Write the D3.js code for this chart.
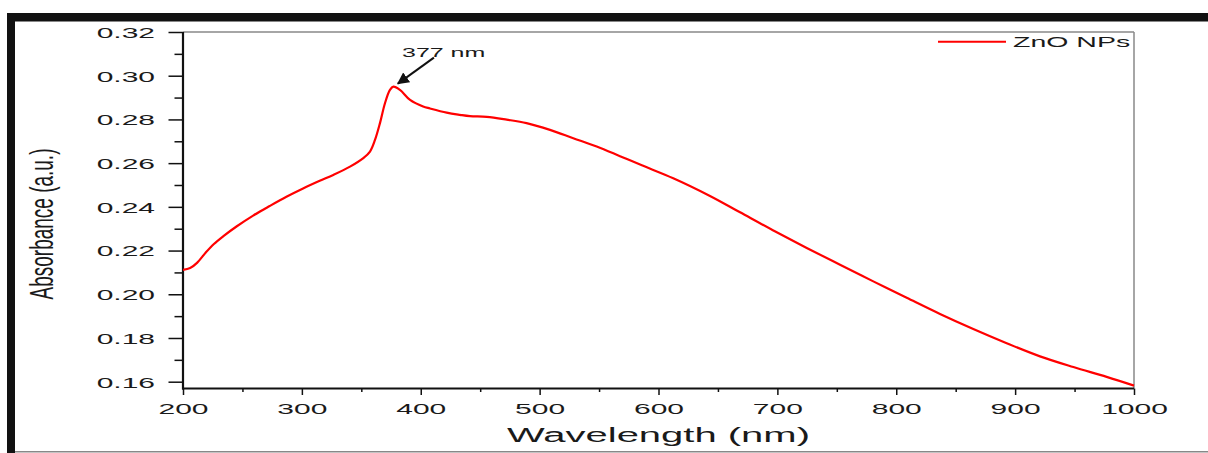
<!DOCTYPE html>
<html>
<head>
<meta charset="utf-8">
<script src="https://cdn.jsdelivr.net/npm/d3@7"></script>
<style>
  html, body { margin: 0; padding: 0; background: #fff; }
  svg { display: block; }
  text { font-family: "Liberation Sans", Arial, sans-serif; fill: #1a1a1a; }
</style>
</head>
<body>
<svg id="chart" width="1208" height="453"></svg>
<script>
// ---- data ----
const wavelength = [200, 206, 212, 219, 226, 234, 245, 259, 273, 287, 301, 315, 326.4, 340.5, 351.7, 357.3, 361.5, 365.7, 369.9, 374.1, 377, 382.5, 391, 402, 407.8, 421.8, 433, 441.4, 455.5, 472.3, 489, 508.7, 528.3, 548, 567.6, 586, 612.4, 643.3, 668.6, 696.6, 724.7, 752.7, 780.7, 808.8, 836.8, 864.8, 892.9, 920.9, 949, 977, 1000];
const absorbance = [0.2112, 0.2120, 0.2145, 0.2190, 0.2230, 0.2266, 0.2310, 0.2360, 0.2404, 0.2446, 0.2484, 0.2519, 0.2546, 0.2584, 0.2623, 0.2653, 0.2706, 0.2783, 0.2874, 0.2935, 0.2950, 0.2935, 0.2889, 0.2859, 0.2850, 0.2831, 0.2821, 0.2815, 0.2812, 0.2799, 0.2783, 0.2752, 0.2714, 0.2676, 0.2632, 0.2590, 0.2531, 0.2450, 0.2375, 0.2292, 0.2212, 0.2135, 0.2059, 0.1984, 0.1910, 0.1841, 0.1776, 0.1716, 0.1667, 0.1622, 0.1582];
const xTicks = [200, 300, 400, 500, 600, 700, 800, 900, 1000];
const xMinorTicks = [250, 350, 450, 550, 650, 750, 850, 950];
const yTicks = [0.16, 0.18, 0.20, 0.22, 0.24, 0.26, 0.28, 0.30, 0.32];
const yMinorTicks = [0.17, 0.19, 0.21, 0.23, 0.25, 0.27, 0.29, 0.31];
const seriesName = "ZnO NPs";
const peakLabel = "377 nm";
const peakWavelength = 377;
const xTitle = "Wavelength (nm)";
const yTitle = "Absorbance (a.u.)";

// ---- layout ----
const SX = 2.0; // horizontal text stretch of the original image
const L = 183, R = 1134, T = 32, B = 388.5;
const svg = d3.select("#chart");

const x = d3.scaleLinear().domain([200, 1000]).range([L, R]);
const y = d3.scaleLinear().domain([0.16, 0.32]).range([381.7, T]);

// outer black/gray border
svg.append("rect").attr("x", 7).attr("y", 13).attr("width", 1201).attr("height", 8.5).attr("fill", "#111");
svg.append("rect").attr("x", 7).attr("y", 13).attr("width", 8).attr("height", 440).attr("fill", "#111");
svg.append("line").attr("x1", 15).attr("x2", 1208).attr("y1", 451.8).attr("y2", 451.8)
  .attr("stroke", "#888").attr("stroke-width", 1.5);

// frame top/right (gray)
svg.append("line").attr("x1", L).attr("x2", R).attr("y1", T).attr("y2", T).attr("stroke", "#888").attr("stroke-width", 1.5);
svg.append("line").attr("x1", R).attr("x2", R).attr("y1", T).attr("y2", B).attr("stroke", "#888").attr("stroke-width", 1.5);

// minor ticks
const xMinor = svg.append("g").attr("transform", `translate(0,${B})`)
  .call(d3.axisBottom(x).tickValues(xMinorTicks).tickSize(3.5).tickFormat(""));
const yMinor = svg.append("g").attr("transform", `translate(${L},0)`)
  .call(d3.axisLeft(y).tickValues(yMinorTicks).tickSize(8.5).tickFormat(""));
[xMinor, yMinor].forEach(g => {
  g.select(".domain").remove();
  g.selectAll("line").attr("stroke", "#111").attr("stroke-width", 1.5);
});

// major axes
const xAxis = svg.append("g").attr("transform", `translate(0,${B})`)
  .call(d3.axisBottom(x).tickValues(xTicks).tickSize(6.5).tickSizeOuter(0).tickFormat(d3.format("d")));
const yAxis = svg.append("g").attr("transform", `translate(${L},0)`)
  .call(d3.axisLeft(y).tickValues(yTicks).tickSize(14.5).tickSizeOuter(0).tickFormat(d3.format(".2f")));
[xAxis, yAxis].forEach(g => {
  g.selectAll("line").attr("stroke", "#111").attr("stroke-width", 1.5);
  g.select(".domain").remove();
});
// axis lines
svg.append("line").attr("x1", L).attr("x2", L).attr("y1", T).attr("y2", B + 1).attr("stroke", "#111").attr("stroke-width", 2.2);
svg.append("line").attr("x1", L - 1).attr("x2", R).attr("y1", B).attr("y2", B).attr("stroke", "#111").attr("stroke-width", 2.2);

xAxis.selectAll("text")
  .attr("y", null).attr("dy", null)
  .attr("font-size", 15).attr("fill", "#1a1a1a")
  .attr("transform", `translate(0,25) scale(${SX},1)`)
  .style("font-family", '"Liberation Sans", Arial, sans-serif');
yAxis.selectAll("text")
  .attr("x", null).attr("dy", null)
  .attr("font-size", 15).attr("fill", "#1a1a1a")
  .attr("text-anchor", "end")
  .attr("transform", `translate(-28,5.3) scale(${SX},1)`)
  .style("font-family", '"Liberation Sans", Arial, sans-serif');

// axis titles
svg.append("text").attr("text-anchor", "middle").attr("font-size", 20)
  .attr("transform", `translate(${(L + R) / 2},442) scale(${SX},1)`)
  .text(xTitle);
svg.append("text").attr("text-anchor", "middle").attr("font-size", 19)
  .attr("transform", `translate(53,224) scale(1.75,1) rotate(-90)`)
  .text(yTitle);

// series line
const data = wavelength.map((w, i) => [w, absorbance[i]]);
svg.append("path").datum(data)
  .attr("fill", "none").attr("stroke", "#ff0000").attr("stroke-width", 2.2)
  .attr("stroke-linejoin", "round")
  .attr("d", d3.line().x(d => x(d[0])).y(d => y(d[1])).curve(d3.curveCatmullRom.alpha(0.5)));

// legend
svg.append("line").attr("x1", 938).attr("x2", 1006).attr("y1", 41.7).attr("y2", 41.7)
  .attr("stroke", "#ff0000").attr("stroke-width", 2);
svg.append("text").attr("font-size", 15)
  .attr("transform", `translate(1013,47) scale(1.9,1)`)
  .text(seriesName);

// peak annotation
const peakVal = d3.max(absorbance);
const tipX = x(peakWavelength) + 4.5, tipY = y(peakVal) - 3;
const tailX = tipX + 36, tailY = tipY - 26;
svg.append("defs").append("marker")
  .attr("id", "arrow").attr("viewBox", "0 0 10 10").attr("refX", 9).attr("refY", 5)
  .attr("markerWidth", 6).attr("markerHeight", 6).attr("orient", "auto")
  .append("path").attr("d", "M0,0 L10,5 L0,10 z").attr("fill", "#111");
svg.append("line").attr("x1", tailX).attr("y1", tailY).attr("x2", tipX).attr("y2", tipY)
  .attr("stroke", "#111").attr("stroke-width", 2).attr("marker-end", "url(#arrow)");
svg.append("text").attr("font-size", 12.5)
  .attr("transform", `translate(402,56.5) scale(${SX},1)`)
  .text(peakLabel);
</script>
</body>
</html>
